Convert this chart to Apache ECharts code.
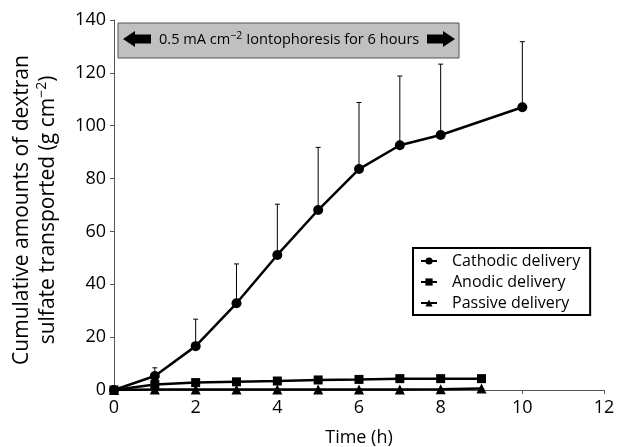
<!DOCTYPE html>
<html><head><meta charset="utf-8">
<script src="https://cdn.jsdelivr.net/npm/echarts@6/dist/echarts.min.js"></script>
<style>html,body{margin:0;padding:0;background:#fff}#c{width:617px;height:447px}</style>
</head><body><div id="c"></div>
<script>
// ---- data ----
var cathodicX = [0, 1, 2, 3, 4, 5, 6, 7, 8, 10];
var cathodicY = [0, 5.3, 16.6, 32.8, 51.1, 68.1, 83.6, 92.6, 96.5, 107];
var cathodicUpper = [0, 8.4, 26.8, 47.7, 70.3, 91.8, 108.8, 118.8, 123.3, 131.8];
var anodicX = [0, 1, 2, 3, 4, 5, 6, 7, 8, 9];
var anodicY = [0, 2.1, 2.8, 3.1, 3.4, 3.8, 4.0, 4.3, 4.3, 4.3];
var passiveX = [0, 1, 2, 3, 4, 5, 6, 7, 8, 9];
var passiveY = [0, 0.2, 0.2, 0.2, 0.2, 0.2, 0.2, 0.2, 0.3, 0.6];
var xTicks = {min: 0, max: 12, interval: 2};
var yTicks = {min: 0, max: 140, interval: 20};
var seriesNames = ['Cathodic delivery', 'Anodic delivery', 'Passive delivery'];

function pairs(xs, ys) { return xs.map(function (x, i) { return [x, ys[i]]; }); }
var errData = cathodicX.map(function (x, i) { return [x, cathodicY[i], cathodicUpper[i]]; });

var FONT = 'Open Sans';
var chart = echarts.init(document.getElementById('c'));
var lineStyle = {color: '#000', width: 2.5};
chart.setOption({
  animation: false,
  backgroundColor: '#fff',
  textStyle: {fontFamily: FONT},
  grid: {left: 114, right: 13, top: 20, bottom: 57, containLabel: false, outerBoundsMode: 'none'},
  xAxis: {
    type: 'value', min: xTicks.min, max: xTicks.max, interval: xTicks.interval,
    splitLine: {show: false},
    axisLine: {lineStyle: {color: '#555', width: 1}},
    axisTick: {length: 4, lineStyle: {color: '#555'}},
    axisLabel: {color: '#000', fontSize: 18, margin: 9, fontFamily: FONT},
    name: 'Time (h)', nameLocation: 'middle', nameGap: 39,
    nameTextStyle: {color: '#000', fontSize: 18, fontFamily: FONT}
  },
  yAxis: {
    type: 'value', min: yTicks.min, max: yTicks.max, interval: yTicks.interval,
    splitLine: {show: false},
    axisLine: {show: true, lineStyle: {color: '#555', width: 1}},
    axisTick: {show: true, length: 4, lineStyle: {color: '#555'}},
    axisLabel: {color: '#000', fontSize: 18, margin: 8, fontFamily: FONT}
  },
  legend: {
    data: seriesNames, orient: 'vertical', left: 413, top: 248,
    padding: [5, 10, 4, 7], borderColor: '#000', borderWidth: 2,
    itemWidth: 16, itemHeight: 9, itemGap: 5,
    textStyle: {fontSize: 16, color: '#000', fontFamily: FONT, padding: [0, 0, 0, 10]}
  },
  graphic: [
    {type: 'rect', shape: {x: 118, y: 23, width: 341, height: 35},
     style: {fill: '#c0c0c0', stroke: '#555', lineWidth: 1}, z: 10},
    {type: 'polygon', shape: {points: [[123, 39], [135, 31], [135, 34.5], [151, 34.5], [151, 43.5], [135, 43.5], [135, 47]]},
     style: {fill: '#000'}, z: 11},
    {type: 'polygon', shape: {points: [[455, 39], [443, 31], [443, 34.5], [427, 34.5], [427, 43.5], [443, 43.5], [443, 47]]},
     style: {fill: '#000'}, z: 11},
    {type: 'text', x: 159, y: 40, z: 11,
     style: {text: '0.5 mA cm{sup|\u22122} Iontophoresis for 6 hours', fill: '#000',
       font: '14.6px "Open Sans"', verticalAlign: 'middle', align: 'left',
       rich: {sup: {fontSize: 10.5, fontFamily: FONT, fill: '#000', padding: [0, 0, 8, 0]}}}},
    {type: 'text', x: 35, y: 210, rotation: Math.PI / 2, z: 11,
     style: {text: 'Cumulative amounts of dextran\nsulfate transported (g cm{sup|\u22122})', fill: '#000',
       font: '21px "Open Sans"', align: 'center', verticalAlign: 'middle', lineHeight: 26,
       rich: {sup: {fontSize: 14, fontFamily: FONT, fill: '#000', padding: [0, 0, 12, 0]}}}}
  ],
  series: [
    {type: 'custom', name: 'err', silent: true, z: 1,
     data: errData,
     renderItem: function (params, api) {
       var p0 = api.coord([api.value(0), api.value(1)]);
       var p1 = api.coord([api.value(0), api.value(2)]);
       var c = 2.5;
       return {type: 'group', children: [
         {type: 'line', shape: {x1: p0[0], y1: p0[1], x2: p1[0], y2: p1[1]}, style: {stroke: '#000', lineWidth: 1}},
         {type: 'line', shape: {x1: p1[0] - c, y1: p1[1], x2: p1[0] + c, y2: p1[1]}, style: {stroke: '#000', lineWidth: 1}}
       ]};
     }},
    {type: 'line', name: seriesNames[0], data: pairs(cathodicX, cathodicY), symbol: 'circle', symbolSize: 10,
     itemStyle: {color: '#000'}, lineStyle: lineStyle, z: 5},
    {type: 'line', name: seriesNames[1], data: pairs(anodicX, anodicY), symbol: 'rect', symbolSize: 9,
     itemStyle: {color: '#000'}, lineStyle: lineStyle, z: 4},
    {type: 'line', name: seriesNames[2], data: pairs(passiveX, passiveY), symbol: 'triangle', symbolSize: 10,
     itemStyle: {color: '#000'}, lineStyle: lineStyle, z: 3}
  ]
});
</script></body></html>
